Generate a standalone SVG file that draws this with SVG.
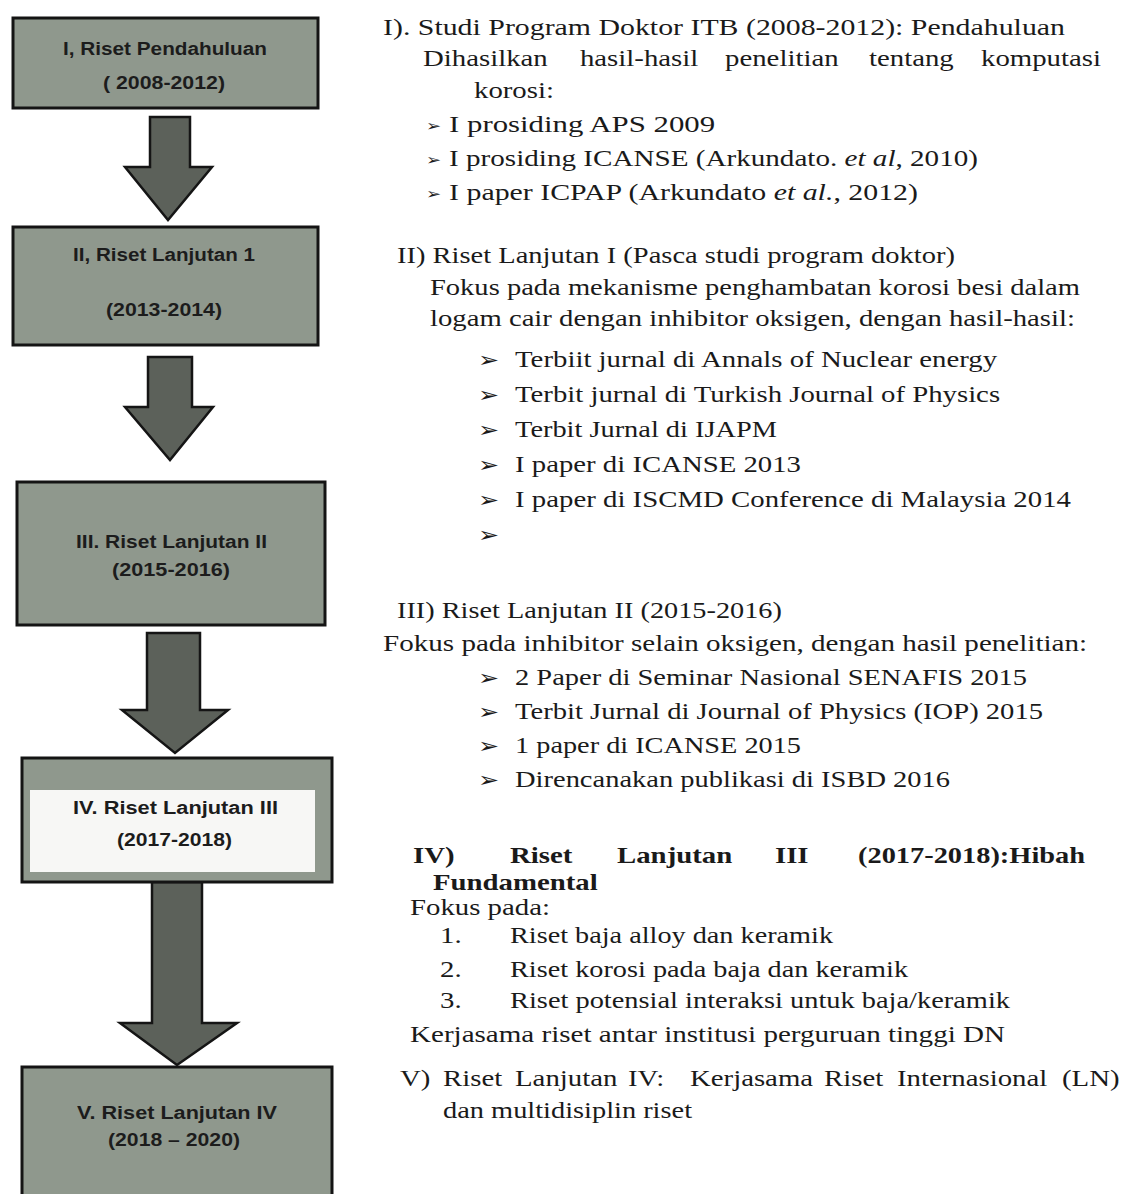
<svg xmlns="http://www.w3.org/2000/svg" width="1122" height="1194" viewBox="0 0 1122 1194">
<style>
.box{fill:#8f988d;stroke:#141414;stroke-width:3}
.inner{fill:#f7f7f5;stroke:none}
.lbl{font-family:"Liberation Sans",Arial,sans-serif;font-weight:bold;font-size:18px;fill:#1c1c1c}
.arr{fill:#5c615a;stroke:#151515;stroke-width:2.5;stroke-linejoin:miter}
.t{font-family:"Liberation Serif","Times New Roman",serif;font-size:24px;fill:#1a1a1a}
.b{font-weight:bold}
.bl{font-family:"DejaVu Sans",sans-serif;font-size:21px;fill:#1a1a1a}
.bs{font-family:"DejaVu Sans",sans-serif;font-size:15px;fill:#1a1a1a}
</style>
<rect width="1122" height="1194" fill="#ffffff"/>
<g id="connectors">
<path class="arr" d="M150,117 L190,117 L190,167 L212,167 L168,220 L125,167 L150,167 Z"/>
<path class="arr" d="M148,357 L192,357 L192,407 L213,407 L170,460 L125,407 L148,407 Z"/>
<path class="arr" d="M147,633 L200,633 L200,710 L228,710 L175,753 L122,710 L147,710 Z"/>
<path class="arr" d="M152,882 L202,882 L202,1023 L237,1023 L177,1065 L120,1023 L152,1023 Z"/>
</g>
<g id="node1">
<rect class="box" x="13" y="18" width="305" height="90"/>
<text class="lbl" x="63" y="55" textLength="204" lengthAdjust="spacingAndGlyphs">I, Riset Pendahuluan</text>
<text class="lbl" x="103" y="89" textLength="122" lengthAdjust="spacingAndGlyphs">( 2008-2012)</text>
</g>
<g id="node2">
<rect class="box" x="13" y="227" width="305" height="118"/>
<text class="lbl" x="73" y="261" textLength="182" lengthAdjust="spacingAndGlyphs">II, Riset Lanjutan 1</text>
<text class="lbl" x="106" y="316" textLength="116" lengthAdjust="spacingAndGlyphs">(2013-2014)</text>
</g>
<g id="node3">
<rect class="box" x="17" y="482" width="308" height="143"/>
<text class="lbl" x="76" y="548" textLength="191" lengthAdjust="spacingAndGlyphs">III. Riset Lanjutan II</text>
<text class="lbl" x="112" y="576" textLength="118" lengthAdjust="spacingAndGlyphs">(2015-2016)</text>
</g>
<g id="node4">
<rect class="box" x="22" y="758" width="310" height="124"/>
<rect class="inner" x="30" y="790" width="285" height="82"/>
<text class="lbl" x="73" y="814" textLength="205" lengthAdjust="spacingAndGlyphs">IV.  Riset Lanjutan III</text>
<text class="lbl" x="117" y="846" textLength="115" lengthAdjust="spacingAndGlyphs">(2017-2018)</text>
</g>
<g id="node5">
<rect class="box" x="22" y="1067" width="310" height="140"/>
<text class="lbl" x="77" y="1119" textLength="200" lengthAdjust="spacingAndGlyphs">V.  Riset Lanjutan IV</text>
<text class="lbl" x="108" y="1146" textLength="132" lengthAdjust="spacingAndGlyphs">(2018 – 2020)</text>
</g>
<g id="notes" transform="scale(1.2,1)">
<g id="note1">
<text class="t" x="319.2" y="35" textLength="568.3" lengthAdjust="spacingAndGlyphs">I). Studi Program Doktor ITB (2008-2012):  Pendahuluan</text>
<text class="t" y="66"><tspan x="352.5">Dihasilkan</tspan><tspan x="483.3">hasil-hasil</tspan><tspan x="604.2">penelitian</tspan><tspan x="724.2">tentang</tspan><tspan x="817.5">komputasi</tspan></text>
<text class="t" x="395" y="98">korosi:</text>
<text class="bs" x="355" y="131">➢</text>
<text class="t" x="374.2" y="132" textLength="221.7" lengthAdjust="spacingAndGlyphs">I prosiding APS 2009</text>
<text class="bs" x="355" y="165">➢</text>
<text class="t" x="374.2" y="166" textLength="440.8" lengthAdjust="spacingAndGlyphs">I prosiding ICANSE (Arkundato. <tspan font-style="italic">et al</tspan>, 2010)</text>
<text class="bs" x="355" y="199">➢</text>
<text class="t" x="374.2" y="200" textLength="390.8" lengthAdjust="spacingAndGlyphs">I paper ICPAP (Arkundato <tspan font-style="italic">et al.</tspan>, 2012)</text>
</g>
<g id="note2">
<text class="t" x="330.8" y="263" textLength="465" lengthAdjust="spacingAndGlyphs">II) Riset Lanjutan I (Pasca studi program doktor)</text>
<text class="t" x="358.3" y="295" textLength="541.7" lengthAdjust="spacingAndGlyphs">Fokus pada mekanisme penghambatan korosi besi dalam</text>
<text class="t" x="358.3" y="326" textLength="537.5" lengthAdjust="spacingAndGlyphs">logam cair dengan inhibitor oksigen, dengan hasil-hasil:</text>
<text class="bl" x="398.3" y="367">➢</text>
<text class="t" x="429.2" y="367" textLength="401.7" lengthAdjust="spacingAndGlyphs">Terbiit jurnal di Annals of Nuclear energy</text>
<text class="bl" x="398.3" y="402">➢</text>
<text class="t" x="429.2" y="402" textLength="404.2" lengthAdjust="spacingAndGlyphs">Terbit jurnal di Turkish Journal of Physics</text>
<text class="bl" x="398.3" y="437">➢</text>
<text class="t" x="429.2" y="437" textLength="218.3" lengthAdjust="spacingAndGlyphs">Terbit Jurnal di IJAPM</text>
<text class="bl" x="398.3" y="472">➢</text>
<text class="t" x="429.2" y="472" textLength="238.3" lengthAdjust="spacingAndGlyphs">I paper di ICANSE 2013</text>
<text class="bl" x="398.3" y="507">➢</text>
<text class="t" x="429.2" y="507" textLength="463.3" lengthAdjust="spacingAndGlyphs">I paper di ISCMD Conference di Malaysia 2014</text>
<text class="bl" x="398.3" y="542">➢</text>
</g>
<g id="note3">
<text class="t" x="330.8" y="618" textLength="320.8" lengthAdjust="spacingAndGlyphs">III) Riset Lanjutan II (2015-2016)</text>
<text class="t" x="319.2" y="651" textLength="586.7" lengthAdjust="spacingAndGlyphs">Fokus pada inhibitor selain oksigen, dengan hasil penelitian:</text>
<text class="bl" x="398.3" y="685">➢</text>
<text class="t" x="429.2" y="685" textLength="426.7" lengthAdjust="spacingAndGlyphs">2 Paper di Seminar Nasional SENAFIS 2015</text>
<text class="bl" x="398.3" y="719">➢</text>
<text class="t" x="429.2" y="719" textLength="440" lengthAdjust="spacingAndGlyphs">Terbit Jurnal di Journal of Physics (IOP) 2015</text>
<text class="bl" x="398.3" y="753">➢</text>
<text class="t" x="429.2" y="753" textLength="238.3" lengthAdjust="spacingAndGlyphs">1 paper di ICANSE 2015</text>
<text class="bl" x="398.3" y="787">➢</text>
<text class="t" x="429.2" y="787" textLength="362.5" lengthAdjust="spacingAndGlyphs">Direncanakan publikasi di ISBD 2016</text>
</g>
<g id="note4">
<text class="t b" y="863"><tspan x="344.2">IV)</tspan><tspan x="425">Riset</tspan><tspan x="514.2">Lanjutan</tspan><tspan x="645.8">III</tspan><tspan x="715" textLength="189.2" lengthAdjust="spacingAndGlyphs">(2017-2018):Hibah</tspan></text>
<text class="t b" x="360.8" y="890">Fundamental</text>
<text class="t" x="341.7" y="915">Fokus pada:</text>
<text class="t" x="366.7" y="943">1.</text>
<text class="t" x="425" y="943" textLength="269.2" lengthAdjust="spacingAndGlyphs">Riset baja alloy dan keramik</text>
<text class="t" x="366.7" y="977">2.</text>
<text class="t" x="425" y="977" textLength="331.7" lengthAdjust="spacingAndGlyphs">Riset korosi pada baja dan keramik</text>
<text class="t" x="366.7" y="1008">3.</text>
<text class="t" x="425" y="1008" textLength="416.7" lengthAdjust="spacingAndGlyphs">Riset potensial interaksi untuk baja/keramik</text>
<text class="t" x="341.7" y="1042" textLength="495.8" lengthAdjust="spacingAndGlyphs">Kerjasama riset antar institusi perguruan tinggi DN</text>
</g>
<g id="note5">
<text class="t" y="1086"><tspan x="333.3">V)</tspan><tspan x="369.2">Riset</tspan><tspan x="429.2">Lanjutan</tspan><tspan x="523.3">IV:</tspan><tspan x="575">Kerjasama</tspan><tspan x="686.7">Riset</tspan><tspan x="747.5">Internasional</tspan><tspan x="885">(LN)</tspan></text>
<text class="t" x="369.2" y="1118" textLength="207.5" lengthAdjust="spacingAndGlyphs">dan multidisiplin riset</text>
</g>
</g>
</svg>
